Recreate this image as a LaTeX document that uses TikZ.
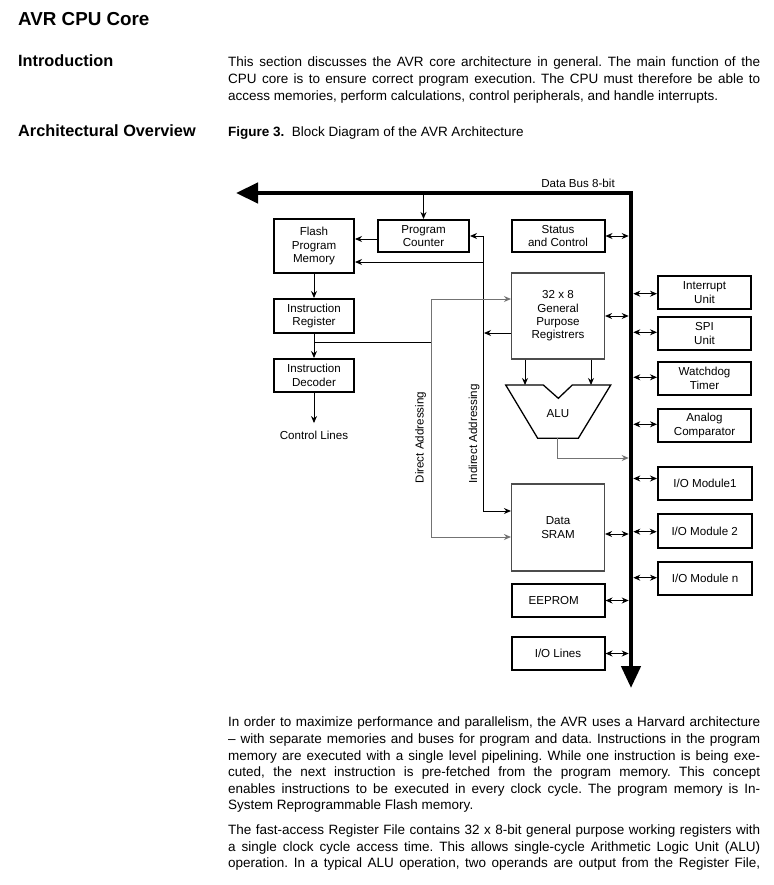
\documentclass[tikz,border=0pt]{standalone}
\usepackage{fontspec}
\setmainfont{Liberation Sans}
\usetikzlibrary{arrows.meta,calc}
\frenchspacing
\newcommand\diagfont{\fontsize{11.6}{13.3}\selectfont}
\newcommand\bodyfont{\fontsize{13.5}{16.6}\selectfont\frenchspacing\tolerance=10000\hyphenpenalty=10000\exhyphenpenalty=10000\relax}
\newcommand\headfont{\fontsize{16.3}{19}\selectfont\bfseries}
\newcommand\titlefont{\fontsize{18.8}{22}\selectfont\bfseries}
\tikzset{
  tip/.style={},
  tbox/.style={draw, line width=2pt, inner sep=0pt, align=center, font=\diagfont},
  gbox/.style={draw=black!70, line width=1.1pt, inner sep=0pt, align=center, font=\diagfont},
  conn/.style={line width=0.9pt, -{Stealth[length=7pt,width=6pt]}},
  lconn/.style={line width=0.9pt},
  conntwo/.style={line width=0.9pt, {Stealth[length=7pt,width=6pt]}-{Stealth[length=7pt,width=6pt]}},
  gconn/.style={line width=0.9pt, draw=black!55, -{Stealth[length=7pt,width=6pt]}},
  gconntwo/.style={line width=0.9pt, draw=black!55, {Stealth[length=7pt,width=6pt]}-{Stealth[length=7pt,width=6pt]}},
  darr/.style={line width=0.9pt, {Stealth[length=7pt,width=6pt]}-{Stealth[length=7pt,width=6pt]}},
  bus/.style={line width=4.5pt, miter limit=10, {Triangle[length=22pt,width=20pt]}-{Triangle[length=22pt,width=19pt]}},
  lbl/.style={font=\diagfont, inner sep=0pt},
  body/.style={anchor=north west, inner sep=0pt, text width=532pt, align=justify, font=\bodyfont},
}
\begin{document}
\begin{tikzpicture}[x=1pt,y=-1pt]
\useasboundingbox[fill=white] (0,0) rectangle (773,885);

% headings
\node[anchor=base west, inner sep=0pt, font=\titlefont] (title) at (18,26) {AVR CPU Core};
\node[anchor=base west, inner sep=0pt, font=\headfont] (intro) at (18,66.7) {Introduction};
\node[anchor=base west, inner sep=0pt, font=\headfont] (arch) at (18,136.7) {Architectural Overview};
\node[body] (introtext) at (228,56.9) {This section discusses the AVR core architecture in general. The main function of the\linebreak
CPU core is to ensure correct program execution. The CPU must therefore be able to\linebreak
access memories, perform calculations, control peripherals, and handle interrupts.};
\node[anchor=base west, inner sep=0pt, font=\bodyfont] (caption) at (228,136.7) {\textbf{Figure 3.}\ \ Block Diagram of the AVR Architecture};

% bus
\coordinate (busTipL) at (236,193);
\coordinate (busCorner) at (631,193);
\coordinate (busTipB) at (631,688);
\coordinate (busW) at (628.7,193);
\coordinate (busE) at (633.3,193);
\coordinate (busS) at (424,195.3);
\draw[bus] (busTipL) -- (busCorner) -- (busTipB);
\node[lbl] (buslbl) at (578,183) {Data Bus 8-bit};

% left column
\node[tbox, minimum width=80pt, minimum height=54pt] (flash) at (314,246) {Flash\\Program\\Memory};
\node[tbox, minimum width=91pt, minimum height=32pt] (pc) at (423.5,236) {Program\\Counter};
\node[tbox, minimum width=80pt, minimum height=34pt] (ir) at (314,316) {Instruction\\Register};
\node[tbox, minimum width=80pt, minimum height=33pt] (id) at (314,375.5) {Instruction\\Decoder};
\node[lbl] (ctrl) at (314,435) {Control Lines};

% middle column
\node[tbox, minimum width=93pt, minimum height=32pt] (status) at (558,236) {Status\\and Control};
\node[gbox, minimum width=93pt, minimum height=86pt] (gpr) at (558,316) {32 x 8\\General\\Purpose\\Registrers};
\node[gbox, minimum width=93pt, minimum height=87pt] (sram) at (558,527.5) {Data\\SRAM};
\node[tbox, minimum width=93pt, minimum height=33pt] (eeprom) at (558,600.5) {EEPROM\hspace*{8.6pt}};
\node[tbox, minimum width=93pt, minimum height=33pt] (iolines) at (558,653.5) {I/O Lines};

% ALU
\draw[line width=1.3pt, line join=miter] (505.7,385) -- (543.3,385) -- (558.3,398.3) -- (572.3,385) -- (610.7,385) -- (578.3,438.3) -- (537.7,438.3) -- cycle;
\node[lbl] (alu) at (558,414) {ALU};
\coordinate (alutop) at (558,385);
\coordinate (alubot) at (557.7,438.3);
\coordinate (aluout) at (557.7,458);

% right column
\node[tbox, minimum width=93pt, minimum height=33pt] (intr) at (704.5,292.5) {Interrupt\\Unit};
\node[tbox, minimum width=93pt, minimum height=33pt] (spi) at (704.5,333.5) {SPI\\Unit};
\node[tbox, minimum width=93pt, minimum height=33pt] (wdt) at (704.5,378.5) {Watchdog\\Timer};
\node[tbox, minimum width=93pt, minimum height=33pt] (anacomp) at (704.5,425.5) {Analog\\Comparator};
\node[tbox, minimum width=94pt, minimum height=33pt] (iom1) at (705,483.5) {I/O Module1};
\node[tbox, minimum width=94pt, minimum height=34pt] (iom2) at (704.7,531) {I/O Module 2};
\node[tbox, minimum width=94pt, minimum height=33pt] (iomn) at (705,578.5) {I/O Module n};

% addressing labels
\node[lbl, rotate=90] (dirtxt) at (420.5,437.5) {Direct Addressing};
\node[lbl, rotate=90] (indtxt) at (474,434) {Indirect Addressing};

% helper coordinates
\coordinate (indx) at (483,300);
\coordinate (dirx) at (431,300);
\coordinate (sramA) at ([yshift=16.5pt]sram.west);
\coordinate (sramB) at ([yshift=-9.5pt]sram.west);
\coordinate (gprA) at ([yshift=17pt]gpr.west);
\coordinate (gprB) at ([yshift=-17pt]gpr.west);
\coordinate (flashB) at ([yshift=-16pt]flash.east);
\coordinate (pcA) at ([yshift=-3pt]pc.west);
\coordinate (irj) at ($(ir.south)!0.346!(id.north)$);

% connectors
\draw[conn] (pc.north |- busS) -- (pc.north);
\draw[conn] (pcA) -- (pcA -| flash.east);
\draw[conn] (flash.south) -- (ir.north);
\draw[conn] (ir.south) -- (id.north);
\draw[conn, shorten >=7.5pt] (id.south) -- (ctrl.north);
\draw[conntwo] (pc.east) -- (pc.east -| indx) -- (indx |- sramA) -- (sramA);
\draw[conn] (indx |- flashB) -- (flashB);
\draw[conn, shorten >=1pt] (gprB) -- (gprB -| indx);
\draw[gconntwo] (gprA) -- (gprA -| dirx) -- (dirx |- sramB) -- (sramB);
\draw[lconn] (irj) -- (irj -| dirx);
\draw[conn] ([xshift=-33pt]gpr.south) -- ([xshift=-33pt]gpr.south |- alutop);
\draw[conn] ([xshift=33pt]gpr.south) -- ([xshift=33pt]gpr.south |- alutop);
\draw[gconn] (alubot) -- (aluout) -- (aluout -| busW);

% bus connections
\draw[darr] (status.east) -- (status.east -| busW);
\draw[darr] (gpr.east) -- (gpr.east -| busW);
\draw[darr] ([yshift=-6.5pt]sram.east) -- ([yshift=-6.5pt]sram.east -| busW);
\draw[darr] (eeprom.east) -- (eeprom.east -| busW);
\draw[darr] (iolines.east) -- (iolines.east -| busW);
\draw[darr] ([yshift=-1.2pt]intr.west) -- ([yshift=-1.2pt]intr.west -| busE);
\draw[darr] ([yshift=1.2pt]spi.west) -- ([yshift=1.2pt]spi.west -| busE);
\draw[darr] ([yshift=1.2pt]wdt.west) -- ([yshift=1.2pt]wdt.west -| busE);
\draw[darr] ([yshift=1.2pt]anacomp.west) -- ([yshift=1.2pt]anacomp.west -| busE);
\draw[darr] ([yshift=5pt]iom1.west) -- ([yshift=5pt]iom1.west -| busE);
\draw[darr] ([yshift=-0.7pt]iom2.west) -- ([yshift=-0.7pt]iom2.west -| busE);
\draw[darr] ([yshift=0.8pt]iomn.west) -- ([yshift=0.8pt]iomn.west -| busE);

% lower text
\node[body] (para1) at (228,716.9) {In order to maximize performance and parallelism, the AVR uses a Harvard architecture\linebreak
– with separate memories and buses for program and data. Instructions in the program\linebreak
memory are executed with a single level pipelining. While one instruction is being exe-\linebreak
cuted, the next instruction is pre-fetched from the program memory. This concept\linebreak
enables instructions to be executed in every clock cycle. The program memory is In-\linebreak
System Reprogrammable Flash memory.};
\node[body] (para2) at (228,824.5) {\parfillskip=0pt The fast-access Register File contains 32 x 8-bit general purpose working registers with\linebreak
a single clock cycle access time. This allows single-cycle Arithmetic Logic Unit (ALU)\linebreak
operation. In a typical ALU operation, two operands are output from the Register File,\par};
\end{tikzpicture}
\end{document}
